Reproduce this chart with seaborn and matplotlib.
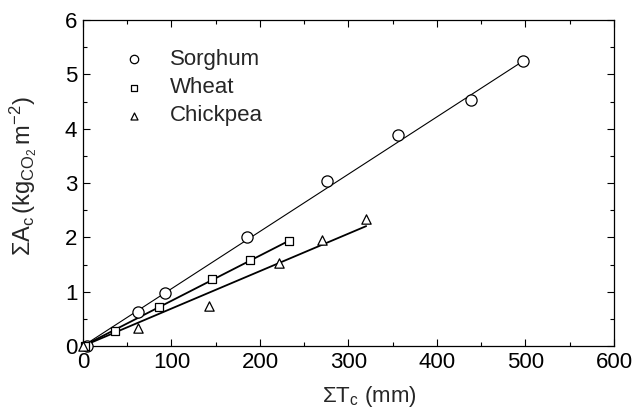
import numpy as np
import pandas as pd
import matplotlib
matplotlib.use("Agg")
import matplotlib.pyplot as plt
from matplotlib.ticker import MultipleLocator
import seaborn as sns

# Cumulative transpiration (mm) and cumulative assimilation (kg CO2 m-2)
sorghum_t = [5, 62, 93, 185, 276, 356, 438, 497]
sorghum_a = [0.0, 0.62, 0.97, 2.00, 3.04, 3.88, 4.53, 5.25]
wheat_t = [2, 36, 86, 146, 189, 233]
wheat_a = [0.0, 0.28, 0.72, 1.23, 1.59, 1.94]
chickpea_t = [0, 62, 143, 222, 270, 320]
chickpea_a = [0.0, 0.33, 0.74, 1.52, 1.95, 2.34]

# Fitted regression lines through the origin: slope and extent
crops = ["Sorghum", "Wheat", "Chickpea"]
fit_slope = [0.01055, 0.00833, 0.00690]
fit_xmax = [494, 233, 320]

sns.set_style("ticks")
plt.rcParams["font.family"] = ["Liberation Sans", "DejaVu Sans"]
plt.rcParams["mathtext.fontset"] = "custom"
plt.rcParams["mathtext.rm"] = "Liberation Sans"
plt.rcParams["mathtext.it"] = "Liberation Sans"
plt.rcParams["mathtext.default"] = "regular"

FS = 16

pts = pd.concat([
    pd.DataFrame({"T": sorghum_t, "A": sorghum_a, "crop": "Sorghum"}),
    pd.DataFrame({"T": wheat_t, "A": wheat_a, "crop": "Wheat"}),
    pd.DataFrame({"T": chickpea_t, "A": chickpea_a, "crop": "Chickpea"}),
], ignore_index=True)

fits = pd.concat([
    pd.DataFrame({"T": [0, xm], "A": [0, s * xm], "crop": c})
    for c, s, xm in zip(crops, fit_slope, fit_xmax)
], ignore_index=True)

fig = plt.figure(figsize=(6.33, 4.11), dpi=100)
ax = fig.add_axes([0.131, 0.158, 0.839, 0.793])

line_w = {"Sorghum": 0.8, "Wheat": 1.3, "Chickpea": 1.3}
for c in crops:
    sns.lineplot(data=fits[fits.crop == c], x="T", y="A", color="black",
                 lw=line_w[c], ax=ax, legend=False, zorder=2)

marker_map = {"Sorghum": "o", "Wheat": "s", "Chickpea": "^"}
size_map = {"Sorghum": 65, "Wheat": 34, "Chickpea": 45}
for c in crops:
    sub = pts[pts.crop == c]
    ax.scatter(sub["T"], sub["A"], marker=marker_map[c], s=size_map[c],
               facecolor="white", edgecolor="black", linewidth=0.9,
               zorder=3, label=c, clip_on=False)

ax.set_xlim(0, 600)
ax.set_ylim(0, 6)
ax.xaxis.set_major_locator(MultipleLocator(100))
ax.xaxis.set_minor_locator(MultipleLocator(50))
ax.yaxis.set_major_locator(MultipleLocator(1))
ax.yaxis.set_minor_locator(MultipleLocator(0.5))
ax.tick_params(which="both", direction="in", top=True, right=True,
               width=0.8, labelsize=FS, colors="black", pad=4)
ax.tick_params(which="major", length=5)
ax.tick_params(which="minor", length=3)
for sp in ax.spines.values():
    sp.set_linewidth(0.9)
    sp.set_color("black")

ax.set_xlabel(r"$\Sigma T_c$ (mm)", fontsize=FS)
ax.set_ylabel(r"$\Sigma A_c\,(kg_{CO_2}\,m^{-2})$", fontsize=FS + 1)
ax.xaxis.set_label_coords(0.54, -0.115)
ax.yaxis.set_label_coords(-0.082, 0.52)

leg = ax.legend(loc="upper left", bbox_to_anchor=(0.055, 0.938), frameon=False,
                fontsize=FS, handletextpad=1.0, labelspacing=0.32,
                scatterpoints=1, markerscale=0.75, borderaxespad=0,
                handlelength=1.2)

fig.savefig("out.png", dpi=100)
